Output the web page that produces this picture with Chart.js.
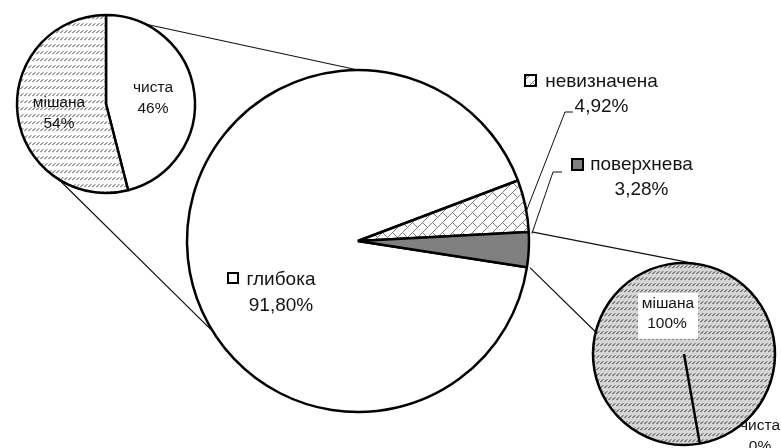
<!DOCTYPE html>
<html><head><meta charset="utf-8">
<script src="https://cdn.jsdelivr.net/npm/chart.js@4"></script>
<style>
html,body{margin:0;padding:0;background:#fff;}
#wrap{position:relative;width:781px;height:448px;overflow:hidden;background:#fff;}
#wrap canvas{position:absolute;left:0;top:0;}
</style></head><body>
<div id="wrap">
<canvas id="cMain" width="781" height="448"></canvas>
<canvas id="cLeft" width="781" height="448"></canvas>
<canvas id="cRight" width="781" height="448"></canvas>
</div>
<script>
// ---- data ----
const mainLabels = ['глибока', 'невизначена', 'поверхнева'];
const mainValues = [91.80, 4.92, 3.28];
const leftLabels = ['чиста', 'мішана'];
const leftValues = [46, 54];
const rightLabels = ['мішана', 'чиста'];
const rightValues = [100, 0];

// ---- layout / style ----
const W = 781, H = 448;
const GEO = {
  main:  {cx: 358, cy: 241, r: 171, rot: 98.8},
  left:  {cx: 106, cy: 104, r: 89,  rot: 0},
  right: {cx: 684, cy: 354, r: 91,  rot: 170}
};
const TEXT = '#141414';
const FONT_BIG = '19px "Liberation Sans", Arial, sans-serif';
const FONT_SM = '15.5px "Liberation Sans", Arial, sans-serif';

function pad(g){
  const s = Math.min(g.cx, W - g.cx, g.cy, H - g.cy) - 1;
  return {left: g.cx - s, right: W - g.cx - s, top: g.cy - s, bottom: H - g.cy - s};
}
function hatch(bg, fg, w, h){
  const c = document.createElement('canvas'); c.width = w; c.height = h;
  const x = c.getContext('2d');
  x.fillStyle = bg; x.fillRect(0, 0, w, h);
  x.strokeStyle = fg; x.lineWidth = 1;
  x.beginPath(); x.moveTo(0.3, h - 1.8); x.lineTo(3.2, h - 4.7); x.stroke();
  return x.createPattern(c, 'repeat');
}
function brick(){
  const c = document.createElement('canvas'); c.width = 10; c.height = 10;
  const x = c.getContext('2d');
  x.fillStyle = '#fff'; x.fillRect(0, 0, 10, 10);
  x.strokeStyle = '#7a7a7a'; x.lineWidth = 1;
  x.beginPath();
  x.moveTo(0, 5); x.lineTo(5, 0);
  x.moveTo(5, 10); x.lineTo(10, 5);
  x.moveTo(2.5, 2.5); x.lineTo(7.5, 7.5);
  x.stroke();
  return x.createPattern(c, 'repeat');
}
const pctBig = v => v.toFixed(2).replace('.', ',') + '%';
const pctSm = v => Math.round(v) + '%';

function pointAt(arc, rad, r){
  return {x: arc.x + r * Math.cos(rad), y: arc.y + r * Math.sin(rad)};
}
function pointDeg(arc, deg, r){
  return pointAt(arc, (deg - 90) * Math.PI / 180, r);
}
function centerText(ctx, txt, cx, base){
  ctx.textAlign = 'center'; ctx.textBaseline = 'alphabetic';
  ctx.fillText(txt, cx, base);
}

const baseOpts = g => ({
  responsive: false, animation: false, events: [],
  rotation: g.rot, radius: g.r,
  layout: {padding: pad(g)},
  plugins: {legend: {display: false}, tooltip: {enabled: false}},
  elements: {arc: {borderColor: '#000', borderWidth: 2.5, borderAlign: 'center'}}
});

// ---- left small pie ----
const leftCtx = document.getElementById('cLeft').getContext('2d');
const leftChart = new Chart(leftCtx, {
  type: 'pie',
  data: {labels: leftLabels, datasets: [{data: leftValues,
    backgroundColor: ['#ffffff', hatch('#ffffff', '#3a3a3a', 4, 7)]}]},
  options: baseOpts(GEO.left),
  plugins: [{id: 'lLabels', afterDraw(ch){
    const c = ch.ctx; c.save(); c.fillStyle = TEXT; c.font = FONT_SM;
    centerText(c, leftLabels[0], 153, 92);
    centerText(c, pctSm(leftValues[0]), 153, 113);
    centerText(c, leftLabels[1], 59, 107);
    centerText(c, pctSm(leftValues[1]), 59, 128);
    c.restore();
  }}]
});

// ---- right small pie ----
const rightCtx = document.getElementById('cRight').getContext('2d');
const rightChart = new Chart(rightCtx, {
  type: 'pie',
  data: {labels: rightLabels, datasets: [{data: rightValues,
    backgroundColor: [hatch('#d6d6d6', '#2e2e2e', 4, 6), '#ffffff']}]},
  options: baseOpts(GEO.right),
  plugins: [{id: 'rLabels', afterDraw(ch){
    const c = ch.ctx; c.save();
    c.fillStyle = '#fff'; c.fillRect(638, 293, 60, 46);
    c.fillStyle = TEXT; c.font = FONT_SM;
    centerText(c, rightLabels[0], 668, 308);
    centerText(c, pctSm(rightValues[0]), 667, 328);
    centerText(c, rightLabels[1], 760, 430);
    centerText(c, pctSm(rightValues[1]), 760, 451);
    c.restore();
  }}]
});

// ---- main pie ----
const mainCtx = document.getElementById('cMain').getContext('2d');
const brickPat = brick();
const mainColors = ['#ffffff', brickPat, '#808080'];
const mainChart = new Chart(mainCtx, {
  type: 'pie',
  data: {labels: mainLabels, datasets: [{data: mainValues, backgroundColor: mainColors}]},
  options: baseOpts(GEO.main),
  plugins: [{id: 'mainDeco', afterDraw(ch){
    const c = ch.ctx;
    const arcs = ch.getDatasetMeta(0).data;
    const A = arcs[0];
    const L = leftChart.getDatasetMeta(0).data[0];
    const R = rightChart.getDatasetMeta(0).data[0];
    c.save();
    // connector lines
    c.strokeStyle = '#111'; c.lineWidth = 1.2;
    const seg = (p, q) => { c.beginPath(); c.moveTo(p.x, p.y); c.lineTo(q.x, q.y); c.stroke(); };
    seg(pointDeg(L, 26, L.outerRadius), pointDeg(A, 0, A.outerRadius));
    seg(pointDeg(L, 212, L.outerRadius), pointDeg(A, 238, A.outerRadius));
    const s = arcs[2];
    seg(pointAt(s, s.startAngle, s.outerRadius + 3), pointDeg(R, 15, R.outerRadius));
    seg(pointAt(s, s.endAngle, s.outerRadius + 3), pointDeg(R, 284, R.outerRadius));
    // leader lines
    c.lineWidth = 1;
    const n = arcs[1];
    const nEnd = pointAt(n, n.startAngle + 0.6 * (n.endAngle - n.startAngle), n.outerRadius);
    c.beginPath(); c.moveTo(573, 112); c.lineTo(565, 112); c.lineTo(nEnd.x, nEnd.y); c.stroke();
    const pEnd = pointAt(s, s.startAngle + 0.05 * (s.endAngle - s.startAngle), s.outerRadius + 3);
    c.beginPath(); c.moveTo(562, 172); c.lineTo(553, 172); c.lineTo(pEnd.x, pEnd.y); c.stroke();
    // labels with keys
    const keys = [[228, 273, 10], [525, 75, 11], [572, 159, 11]];
    const pos = [[281, 285, 311], [601.5, 87, 112], [641.5, 170, 195]];
    for (let i = 0; i < mainLabels.length; i++) {
      const [kx, ky, ks] = keys[i];
      c.fillStyle = mainColors[i]; c.fillRect(kx, ky, ks, ks);
      c.strokeStyle = '#000'; c.lineWidth = 2; c.strokeRect(kx, ky, ks, ks);
      c.fillStyle = TEXT; c.font = FONT_BIG;
      centerText(c, mainLabels[i], pos[i][0], pos[i][1]);
      centerText(c, pctBig(mainValues[i]), pos[i][0], pos[i][2]);
    }
    c.restore();
  }}]
});
</script>
</body></html>
